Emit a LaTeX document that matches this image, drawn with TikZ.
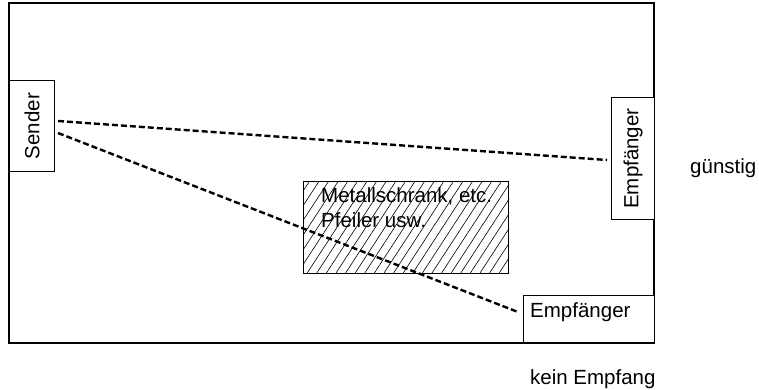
\documentclass[tikz,border=0pt]{standalone}
\usepackage{fontspec}
\setmainfont{Liberation Sans}
\begin{document}
\begin{tikzpicture}[x=1pt,y=-1pt,
  box/.style={draw, line width=1.1pt, fill=white, inner sep=0pt, anchor=north west},
  lbl/.style={font=\fontsize{20.5}{25}\selectfont, inner sep=0pt},
  signal/.style={line width=2.4pt, dash pattern=on 6pt off 3pt}]
\useasboundingbox (0,0) rectangle (759,389);
\draw[line width=1.1pt] (9,3) rectangle (654,343);
% obstacle
\node[box, fill=none, minimum width=205pt, minimum height=92pt] (obst) at (303,181) {};
\begin{scope}
\clip (obst.south west) rectangle (obst.north east);
\foreach \i in {0,...,28} {
  \draw[line width=0.6pt] ({240+\i*9.6},273) -- ({240+\i*9.6+60},181);
}
\end{scope}
\node[lbl, anchor=base west] (otext1) at (321,202) {Metallschrank, etc.};
\node[lbl, anchor=base west] (otext2) at (321,227) {Pfeiler usw.};
% boxes
\node[box, minimum width=45pt, minimum height=91pt] (sender) at (9,80) {};
\node[lbl, rotate=90] at (sender.center) {Sender};
\node[box, minimum width=43pt, minimum height=122pt] (emp1) at (611,97) {};
\node[lbl, rotate=90] at (emp1.center) {Empfänger};
\node[box, minimum width=131pt, minimum height=47pt] (emp2) at (523,295) {};
\node[lbl, anchor=base west] (emp2t) at (530,317) {Empfänger};
% signals
\coordinate (s1) at (58,121);
\coordinate (s2) at (58,133);
\coordinate (e1) at (607,160);
\coordinate (e2) at (518,312);
\draw[signal] (s1) -- (e1);
\draw[signal] (s2) -- (e2);
% outside labels
\node[lbl, anchor=base west] (g) at (690,173) {günstig};
\node[lbl, anchor=base west] (k) at (530,384) {kein Empfang};
\end{tikzpicture}
\end{document}
